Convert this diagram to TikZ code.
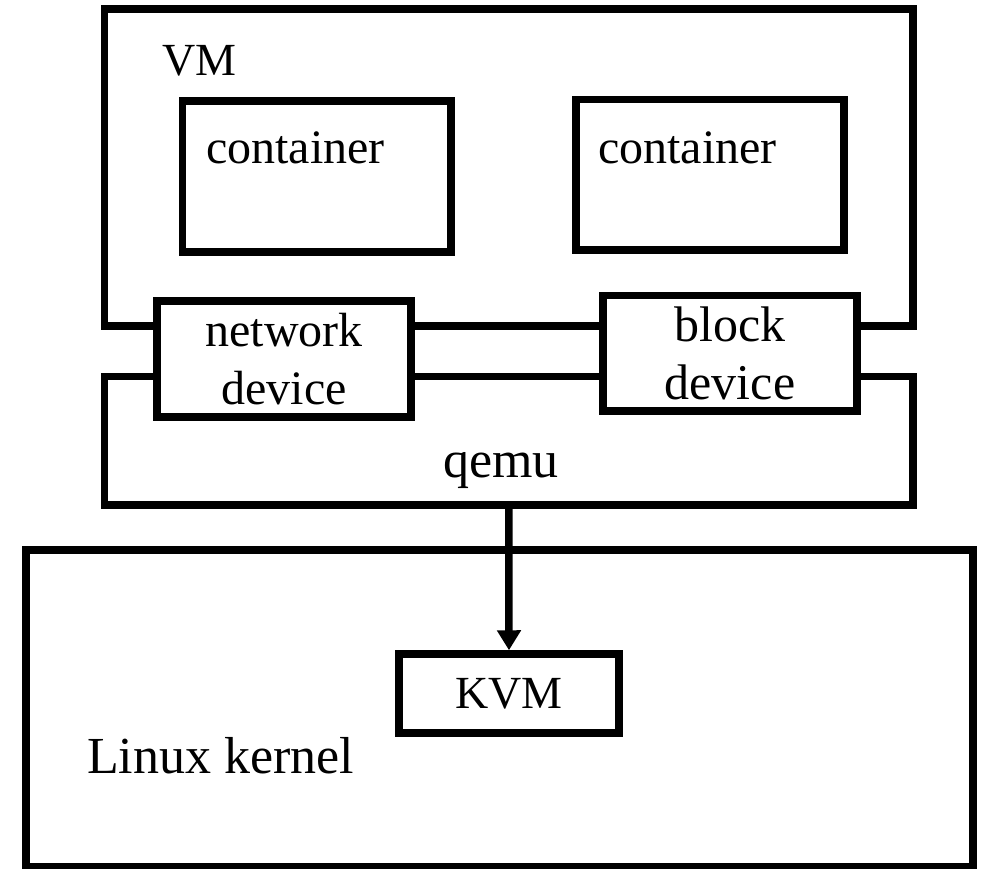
\documentclass[tikz,border=0pt]{standalone}
\usepackage{fontspec}
\setmainfont{Liberation Serif}
\usetikzlibrary{arrows.meta,shadows}
\begin{document}
\begin{tikzpicture}[x=1pt,y=-1pt,
  box/.style={draw=black, line width=7.5pt, fill=white, inner sep=0pt,
    drop shadow={shadow xshift=2.5pt, shadow yshift=-3pt, opacity=0.25, fill=black}},
  txt/.style={inner sep=0pt, font=\fontsize{48}{58}\selectfont},
  bigtxt/.style={inner sep=0pt, font=\fontsize{52}{62}\selectfont},
  smalltxt/.style={inner sep=0pt, font=\fontsize{46}{55}\selectfont},
  conn/.style={line width=7.5pt, -{Triangle[length=20pt,width=23pt]}}]
\useasboundingbox[fill=white] (0,0) rectangle (987,868);

% boxes
\node[box, minimum width=947pt, minimum height=317pt] (linux) at (499.5,708.5) {};
\node[box, minimum width=808.5pt, minimum height=317pt] (vm) at (508.75,167.5) {};
\node[box, minimum width=808.5pt, minimum height=128.5pt] (qemu) at (508.75,440.75) {};
\node[box, minimum width=268.5pt, minimum height=151pt] (cont1) at (316.75,176.5) {};
\node[box, minimum width=268pt, minimum height=150.5pt] (cont2) at (710,174.75) {};
\node[box, minimum width=254pt, minimum height=116pt, align=center,
      font=\fontsize{48}{58}\selectfont] (net) at (284,359) {network\\device};
\node[box, minimum width=254pt, minimum height=115.5pt, align=center,
      font=\fontsize{50}{58}\selectfont] (blk) at (730,353.25) {block\\device};
\node[box, minimum width=220pt, minimum height=79pt,
      font=\fontsize{46}{55}\selectfont] (kvm) at (509,693.5) {KVM};

% connector
\draw[conn] (qemu.south) -- (kvm.north);

% labels
\node[smalltxt, anchor=base west] (vmt) at (162,75) {VM};
\node[txt, anchor=base west] (c1t) at (206,163) {container};
\node[txt, anchor=base west] (c2t) at (598,163) {container};
\node[bigtxt, anchor=base] (qemut) at (501,477) {qemu};
\node[bigtxt, anchor=base west] (linuxt) at (87,773) {Linux kernel};
\end{tikzpicture}
\end{document}
